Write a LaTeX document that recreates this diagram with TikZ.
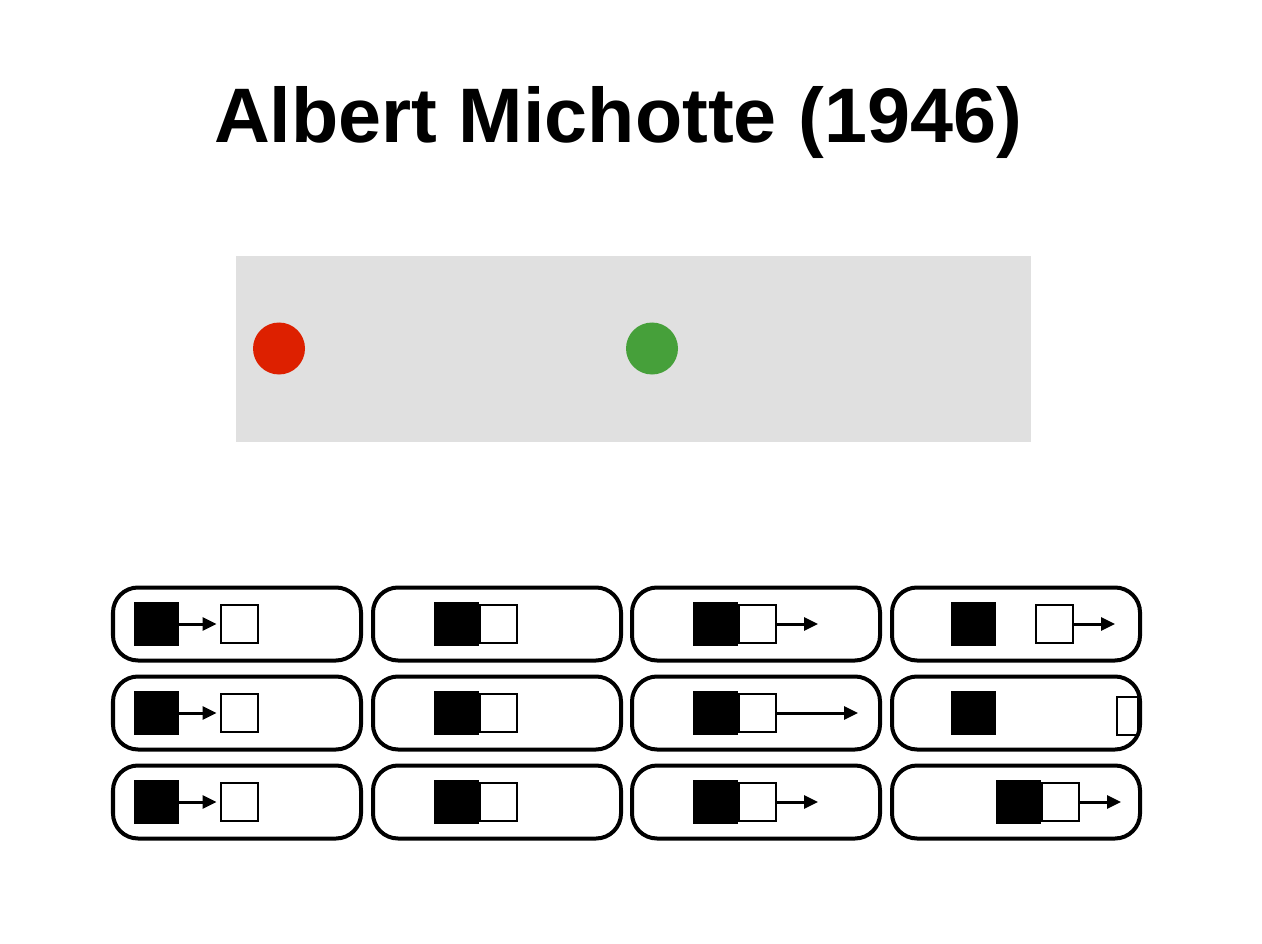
\documentclass[tikz,border=0pt]{standalone}
\usepackage{fontspec}
\setmainfont{Liberation Sans}
\usepackage{tikz}
\usetikzlibrary{arrows.meta, positioning}
\definecolor{ballred}{HTML}{DD2000}
\definecolor{ballgreen}{HTML}{46A03A}
\definecolor{stagegray}{HTML}{E0E0E0}

\begin{document}
\begin{tikzpicture}[
      x=0.2mm,
      y=-0.2mm,
      slot/.style={draw, line width=0.8mm, rounded corners=5mm, minimum width=49.6mm, minimum height=14.6mm, inner sep=0pt},
      launcher/.style={fill=black, minimum width=9mm, minimum height=8.8mm, inner sep=0pt},
      target/.style={draw, fill=white, line width=0.4mm, minimum width=7.4mm, minimum height=7.6mm, inner sep=0pt},
      push/.style={-{Triangle[length=2.8mm, width=2.6mm]}, line width=0.6mm},
      ball/.style={circle, minimum size=10.4mm, inner sep=0pt}
  ]
    \useasboundingbox (0,0) rectangle (1262,944);
    \node[font=\bfseries\fontsize{44}{50}\selectfont, anchor=base] (title) at (618,143)
      {Albert Michotte (1946)};
    % the animation frame
    \node[fill=stagegray, minimum width=159mm, minimum height=37.2mm, inner sep=0pt] (stage) at (633.5,349) {};
    \node[ball, fill=ballred] (red) at (279,348.5) {};
    \node[ball, fill=ballgreen] (green) at (652,348.5) {};
    % squares, one row at a time
    \foreach \cy/\r in {624/1, 713/2, 802/3} {
      \node[launcher] (k1\r) at (156,\cy) {};
      \node[target] (t1\r) at (239,\cy) {};
      \draw[push, shorten >=0.6mm] (k1\r) -- (t1\r);
      \node[launcher] (k2\r) at (456,\cy) {};
      \node[target, right=0pt of k2\r] (t2\r) {};
      \node[launcher] (k3\r) at (715,\cy) {};
      \node[target, right=0pt of k3\r] (t3\r) {};
    }
    \coordinate (e31) at (818,624);
    \coordinate (e32) at (858,713);
    \coordinate (e33) at (818,802);
    \foreach \r in {1,2,3}
      \draw[push] (t3\r) -- (e3\r);
    \node[launcher] (k41) at (973,624) {};
    \node[target] (t41) at (1054,624) {};
    \coordinate (e41) at (1115,624);
    \draw[push] (t41) -- (e41);
    \node[launcher] (k42) at (973,713) {};
    \node[target, minimum width=4.2mm] (t42) at (1127,716) {};
    \node[launcher] (k43) at (1018,802) {};
    \node[target, right=0pt of k43] (t43) {};
    \coordinate (e43) at (1121,802);
    \draw[push] (t43) -- (e43);
    % the rounded frames
    \foreach \cx/\c in {237/1, 497/2, 756/3, 1016/4}
      \foreach \cy/\r in {624/1, 713/2, 802/3}
        \node[slot] (s\c\r) at (\cx,\cy) {};
  \end{tikzpicture}
\end{document}
